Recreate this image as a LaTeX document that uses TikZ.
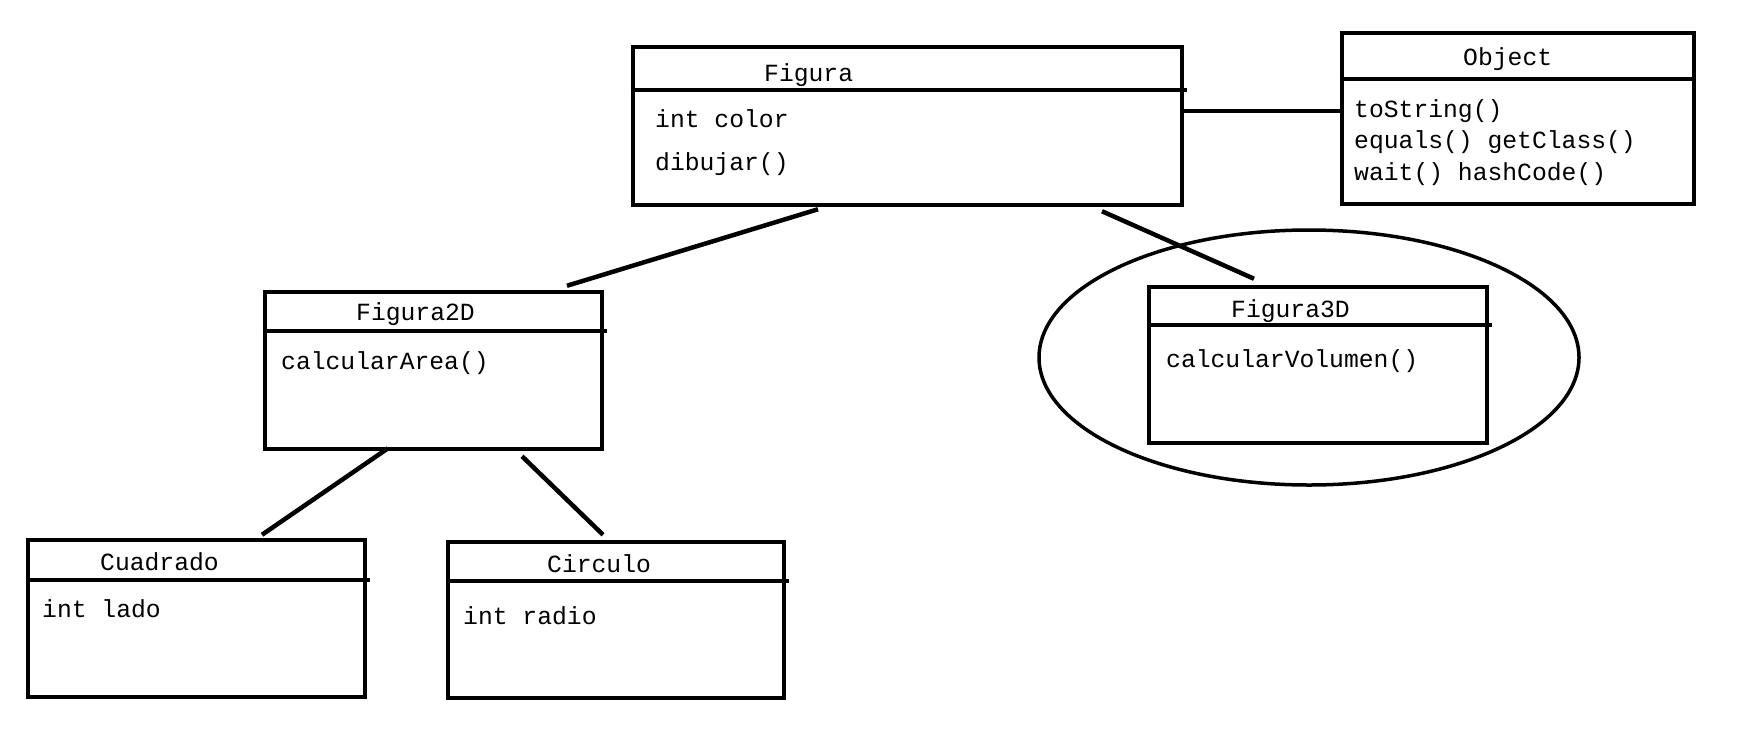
\documentclass[tikz,border=0pt]{standalone}
\usepackage{fontspec}
\setmonofont{Liberation Mono}
\usetikzlibrary{shapes.geometric}
\begin{document}
\begin{tikzpicture}[x=1pt, y=-1pt,
  clase/.style={draw, line width=4.5pt, rectangle, inner sep=0pt},
  sep/.style={line width=4.5pt},
  link/.style={line width=4.5pt},
  txt/.style={inner sep=0pt, anchor=base west, font=\ttfamily\fontsize{24.7}{30}\selectfont}]
\useasboundingbox (0,0) rectangle (1752,744);
\node[clase, minimum width=549, minimum height=158] (figura) at (907.5,126){};
\draw[sep]([yshift=-45]figura.north west) -- ([yshift=-45, xshift=3]figura.north east);
\node[txt] (figuraTit) at (764,81){Figura};
\node[txt] (figuraAtr) at (655,127){int color};
\node[txt] (figuraMet) at (655,170){dibujar()};
\node[clase, minimum width=352, minimum height=171] (object) at (1518,118.5){};
\draw[sep]([yshift=-48]object.north west) -- ([yshift=-48]object.north east);
\node[txt] (objectTit) at (1463,65){Object};
\node[txt] (objectMet1) at (1354,117){toString()};
\node[txt] (objectMet2) at (1354,148.5){equals() getClass()};
\node[txt] (objectMet3) at (1354,180){wait() hashCode()};
\draw[link]([yshift=15]figura.east) -- ([yshift=7.5]object.west);
\node[clase, minimum width=337, minimum height=157] (figura2d) at (433.5,370.5){};
\draw[sep]([yshift=-41]figura2d.north west) -- ([yshift=-41, xshift=3]figura2d.north east);
\node[txt] (figura2dTit) at (356,320){Figura2D};
\node[txt] (figura2dMet) at (281,369){calcularArea()};
\draw[link]([xshift=-89.5, yshift=-2]figura.south) -- ([xshift=133.5, yshift=4]figura2d.north);
\node[draw, ellipse, line width=3.5pt, inner sep=0pt, minimum width=540, minimum height=255] (foco) at (1309,357.5){};
\node[clase, minimum width=338, minimum height=156] (figura3d) at (1318,365){};
\draw[sep]([yshift=-40]figura3d.north west) -- ([yshift=-40, xshift=3]figura3d.north east);
\node[txt] (figura3dTit) at (1231,317){Figura3D};
\node[txt] (figura3dMet) at (1166,367){calcularVolumen()};
\draw[link]([xshift=194.5, yshift=-4]figura.south) -- ([xshift=-64, yshift=6]figura3d.north);
\node[clase, minimum width=337, minimum height=157] (cuadrado) at (196.5,618.5){};
\draw[sep]([yshift=-42]cuadrado.north west) -- ([yshift=-42, xshift=3]cuadrado.north east);
\node[txt] (cuadradoTit) at (100,570){Cuadrado};
\node[txt] (cuadradoAtr) at (42,617){int lado};
\draw[link]([xshift=-45.5, yshift=3]figura2d.south) -- ([xshift=65.5, yshift=3]cuadrado.north);
\node[clase, minimum width=336, minimum height=156] (circulo) at (616,620){};
\draw[sep]([yshift=-41]circulo.north west) -- ([yshift=-41, xshift=3]circulo.north east);
\node[txt] (circuloTit) at (547,572){Circulo};
\node[txt] (circuloAtr) at (463,624){int radio};
\draw[link]([xshift=88.5, yshift=-5]figura2d.south) -- ([xshift=-13, yshift=5]circulo.north);
\end{tikzpicture}
\end{document}
